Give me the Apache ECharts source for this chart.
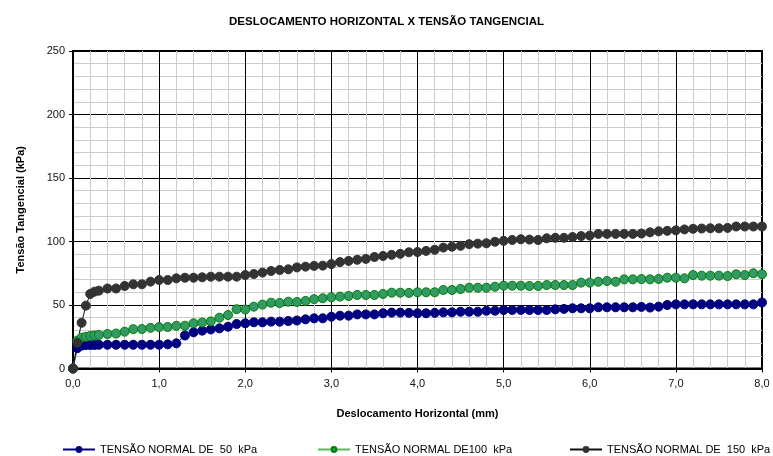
<!DOCTYPE html>
<html>
<head>
<meta charset="utf-8">
<script src="https://cdn.jsdelivr.net/npm/echarts@6/dist/echarts.min.js"></script>
<style>
html,body{margin:0;padding:0;background:#fff;}
#chart{width:773px;height:456px;}
</style>
</head>
<body>
<div id="chart"></div>
<script>
// Displacement (mm)
const displacement = [0, 0.05, 0.1, 0.15, 0.2, 0.25, 0.3, 0.4, 0.5, 0.6, 0.7, 0.8, 0.9, 1.0,
  1.1, 1.2, 1.3, 1.4, 1.5, 1.6, 1.7, 1.8, 1.9, 2.0, 2.1, 2.2, 2.3, 2.4, 2.5, 2.6, 2.7, 2.8, 2.9, 3.0,
  3.1, 3.2, 3.3, 3.4, 3.5, 3.6, 3.7, 3.8, 3.9, 4.0, 4.1, 4.2, 4.3, 4.4, 4.5, 4.6, 4.7, 4.8, 4.9, 5.0,
  5.1, 5.2, 5.3, 5.4, 5.5, 5.6, 5.7, 5.8, 5.9, 6.0, 6.1, 6.2, 6.3, 6.4, 6.5, 6.6, 6.7, 6.8, 6.9, 7.0,
  7.1, 7.2, 7.3, 7.4, 7.5, 7.6, 7.7, 7.8, 7.9, 8.0];

// Shear stress (kPa) – normal stress 50 kPa
const tau50 = [0, 16, 18, 18.5, 18.5, 18.5, 18.7, 18.7, 18.7, 18.7, 18.7, 18.7, 18.7, 18.7,
  19, 19.8, 26, 28.5, 29.8, 30.8, 31.6, 32.9, 35, 35.6, 36.4, 36.4, 36.9, 36.9, 37.4, 37.8, 38.7, 39.5, 39.5, 40.8,
  41.6, 41.6, 42.6, 42.6, 42.6, 43.5, 44, 44, 43.8, 43.5, 43.5, 43.8, 44.2, 44.2, 44.7, 44.7, 44.7, 45.5, 45.5, 46.1,
  46.1, 46.1, 46.1, 46.1, 46.1, 46.6, 46.9, 47.4, 47.4, 47.4, 48.2, 48.2, 48.2, 48.2, 48.2, 48.5, 48, 48.7, 50, 50.5,
  50.5, 50.5, 50.5, 50.5, 50.5, 50.5, 50.5, 50.5, 50.5, 52];

// Shear stress (kPa) – normal stress 100 kPa
const tau100 = [0, 22, 24.3, 25, 25.6, 26, 26.4, 27.2, 27.5, 29, 31, 31.1, 32, 32.6,
  32.7, 33.6, 33.7, 35.6, 36.2, 37.1, 40, 42.1, 46.7, 46.4, 48.7, 50.3, 51.8, 51.6, 52.6, 52.4, 53.2, 54.6, 55.3, 56.1,
  56.6, 57.1, 57.9, 57.9, 57.9, 58.7, 59.7, 59.7, 59.5, 60, 60, 60, 61.8, 61.8, 62.6, 63.6, 63.6, 63.6, 64.4, 65.2,
  65.2, 65.2, 65, 65, 65.7, 65.7, 65.7, 65.7, 67.6, 67.6, 68.3, 68.9, 68.3, 70.2, 70.2, 70.4, 70.2, 70.5, 71.5, 71.5,
  71, 73.6, 73.1, 73.1, 73.1, 72.8, 74.2, 73.6, 75, 74.2];

// Shear stress (kPa) – normal stress 150 kPa
const tau150 = [0, 20.3, 36, 49.5, 58.7, 60.5, 61.3, 63, 63, 65, 66.3, 66.3, 68.4, 69.7,
  69.7, 71, 71.5, 71.5, 71.8, 72.3, 72.3, 72.3, 72.3, 73.6, 74.4, 75.5, 76.8, 77.6, 78.1, 79.6, 80.2, 80.8, 81, 82.2,
  83.8, 84.7, 85.6, 86.3, 87.8, 88.6, 89.5, 90.3, 91.5, 91.7, 92.6, 93.5, 95.2, 95.9, 96.6, 97.9, 98.3, 98.6, 99.8, 100.5,
  101.2, 101.8, 101.5, 101.2, 102.5, 102.9, 102.9, 103.5, 104.3, 104.7, 106, 106, 106, 106, 106, 106.3, 107.2, 108, 108.4, 108.8,
  109.5, 110, 110.2, 110.4, 110.4, 110.7, 111.8, 111.8, 111.8, 111.8];

const seriesNames = ['TENSÃO NORMAL DE  50  kPa', 'TENSÃO NORMAL DE100  kPa', 'TENSÃO NORMAL DE  150  kPa'];
const titleText = 'DESLOCAMENTO HORIZONTAL X TENSÃO TANGENCIAL';
const xName = 'Deslocamento Horizontal (mm)';
const yName = 'Tensão Tangencial (kPa)';

function pairs(xs, ys) { return xs.map((x, i) => [x, ys[i]]); }

const FONT = 'Liberation Sans, Arial, sans-serif';
const chart = echarts.init(document.getElementById('chart'), null, {renderer: 'canvas'});

const styles = [
  {line: '#000080', fill: '#000080', border: '#000080'},
  {line: '#5cb85c', fill: '#339966', border: '#008000'},
  {line: '#111111', fill: '#333333', border: '#333333'}
];
const dataSets = [tau50, tau100, tau150];
const legendLefts = [57, 312, 564];

chart.setOption({
  animation: false,
  backgroundColor: '#ffffff',
  title: {
    text: titleText, left: 'center', top: 11,
    textStyle: {fontFamily: FONT, fontSize: 11.5, fontWeight: 'bold', color: '#000'}
  },
  legend: seriesNames.map((n, i) => ({
    data: [n], left: legendLefts[i], top: 439, itemWidth: 32, itemHeight: 6, itemGap: 4,
    textStyle: {fontFamily: FONT, fontSize: 11, color: '#000'}
  })),
  grid: {
    left: 73, right: 11, top: 51, bottom: 87.5, containLabel: false,
    show: true, borderColor: '#000', borderWidth: 2, backgroundColor: '#fff'
  },
  xAxis: {
    type: 'value', min: 0, max: 8, interval: 1,
    name: xName, nameLocation: 'middle', nameGap: 40,
    nameTextStyle: {fontFamily: FONT, fontSize: 11, fontWeight: 'bold', color: '#000'},
    axisLine: {show: true, lineStyle: {color: '#000', width: 2}},
    axisTick: {show: true, length: 4, lineStyle: {color: '#000'}},
    axisLabel: {fontFamily: FONT, fontSize: 11, color: '#111', margin: 10,
      formatter: v => v.toFixed(1).replace('.', ',')},
    splitLine: {show: true, lineStyle: {color: '#000', width: 1}},
    minorTick: {show: false, splitNumber: 5},
    minorSplitLine: {show: true, lineStyle: {color: '#cccccc', width: 1}}
  },
  yAxis: {
    type: 'value', min: 0, max: 250, interval: 50,
    name: yName, nameLocation: 'middle', nameGap: 47, nameRotate: 90,
    nameTextStyle: {fontFamily: FONT, fontSize: 11, fontWeight: 'bold', color: '#000'},
    axisLine: {show: true, lineStyle: {color: '#000', width: 2}},
    axisTick: {show: true, length: 4, lineStyle: {color: '#000'}},
    axisLabel: {fontFamily: FONT, fontSize: 11, color: '#111', margin: 8},
    splitLine: {show: true, lineStyle: {color: '#000', width: 1}},
    minorTick: {show: false, splitNumber: 5},
    minorSplitLine: {show: true, lineStyle: {color: '#cccccc', width: 1}}
  },
  series: seriesNames.map((n, i) => ({
    name: n, type: 'line', data: pairs(displacement, dataSets[i]),
    symbol: 'circle', symbolSize: 9, showAllSymbol: true,
    lineStyle: {color: styles[i].line, width: 1},
    itemStyle: {color: styles[i].fill, borderColor: styles[i].border, borderWidth: 1},
    emphasis: {disabled: true}
  }))
});
</script>
</body>
</html>
